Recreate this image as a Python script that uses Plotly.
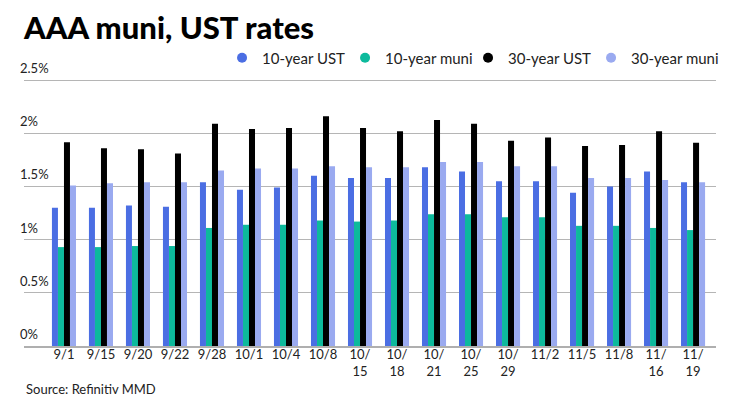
import plotly.graph_objects as go

dates = ["9/1", "9/15", "9/20", "9/22", "9/28", "10/1", "10/4", "10/8", "10/<br>15",
         "10/<br>18", "10/<br>21", "10/<br>25", "10/<br>29", "11/2", "11/5", "11/8",
         "11/<br>16", "11/<br>19"]

ust_10 = [1.30, 1.30, 1.32, 1.31, 1.54, 1.47, 1.49, 1.60, 1.58,
          1.58, 1.68, 1.64, 1.55, 1.55, 1.44, 1.50, 1.64, 1.54]
muni_10 = [0.93, 0.93, 0.94, 0.94, 1.11, 1.14, 1.14, 1.18, 1.17,
           1.18, 1.24, 1.24, 1.21, 1.21, 1.13, 1.13, 1.11, 1.09]
ust_30 = [1.915, 1.86, 1.85, 1.81, 2.09, 2.04, 2.05, 2.16, 2.05,
          2.02, 2.125, 2.09, 1.93, 1.96, 1.88, 1.89, 2.02, 1.91]
muni_30 = [1.51, 1.53, 1.54, 1.54, 1.65, 1.67, 1.67, 1.69, 1.68,
           1.68, 1.73, 1.73, 1.69, 1.69, 1.58, 1.58, 1.56, 1.54]

y_ticks = [0, 0.5, 1, 1.5, 2, 2.5]
y_tick_text = ["0%", "0.5%", "1%", "1.5%", "2%", "2.5%"]

series = [
    ("10-year UST", ust_10, "#4B6EE3"),
    ("10-year muni", muni_10, "#0DBA9C"),
    ("30-year UST", ust_30, "#000000"),
    ("30-year muni", muni_30, "#9AAAF0"),
]

FONT = "Lato, 'Open Sans', sans-serif"

fig = go.Figure()
x_idx = list(range(len(dates)))

for name, vals, color in series:
    fig.add_trace(go.Bar(x=x_idx, y=vals, name=name, marker_color=color,
                         marker_line_width=0, showlegend=False))

# circle markers for the legend
for name, vals, color in series:
    fig.add_trace(go.Scatter(x=[None], y=[None], mode="markers", name=name,
                             marker=dict(color=color, size=10, symbol="circle")))
# blank entry so the last legend label is not clipped
fig.add_trace(go.Scatter(x=[None], y=[None], mode="markers", name=" ",
                         marker=dict(color="rgba(0,0,0,0)", size=1)))

# y tick labels sit above the gridlines
for v, t in zip(y_ticks, y_tick_text):
    fig.add_annotation(x=-0.0087, xref="paper", xanchor="left", y=v, yref="y",
                       yanchor="bottom", yshift=2, text=t, showarrow=False,
                       font=dict(family=FONT, size=13, color="#222"))

fig.add_annotation(x=0, xref="paper", xanchor="left", y=-0.16, yref="paper",
                   yanchor="middle", text="Source: Refinitiv MMD", showarrow=False,
                   font=dict(family=FONT, size=13, color="#222"))

# page body adds 8px around the figure, so the figure is 8px smaller
fig.update_layout(
    width=732, height=408,
    margin=dict(l=16, r=24, t=70, b=70, autoexpand=False),
    paper_bgcolor="white", plot_bgcolor="white",
    barmode="group", bargap=0.35, bargroupgap=0,
    title=dict(text="AAA muni, UST rates", x=0.0219, xanchor="left",
               y=0.951, yanchor="middle", pad=dict(l=0, t=0, b=0, r=0),
               font=dict(family=FONT, size=31, color="#000", weight=900)),
    legend=dict(orientation="h", x=0.2862, xanchor="left", y=1.0746, yanchor="middle",
                font=dict(family=FONT, size=15, color="#222"),
                itemwidth=30, entrywidth=78, entrywidthmode="pixels",
                bgcolor="rgba(0,0,0,0)"),
    font=dict(family=FONT, size=13, color="#222"),
)

fig.update_xaxes(range=[-1.08, 17.62], tickmode="array", tickvals=x_idx, ticktext=dates,
                 showgrid=False, showline=True, linecolor="#AFAFAF", linewidth=1.5,
                 ticks="", automargin=False, ticklabelstandoff=-4,
                 tickfont=dict(family=FONT, size=13, color="#222"))
fig.update_yaxes(range=[0, 2.52], tickvals=y_ticks, showticklabels=False,
                 showgrid=True, gridcolor="#B5B5B5", gridwidth=1, zeroline=False,
                 automargin=False)

fig.write_html("out.html")
